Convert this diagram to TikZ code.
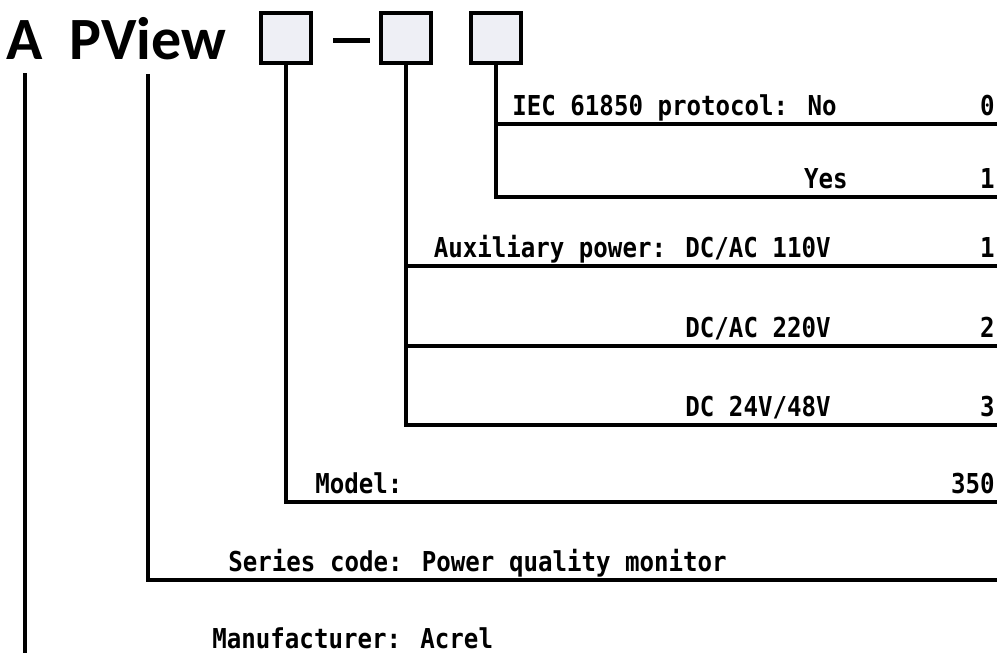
\documentclass[tikz,border=0pt]{standalone}
\usepackage{fontspec}
\newfontfamily\titlefont{Carlito}
\newfontfamily\labelfont[FakeStretch=0.88]{DejaVu Sans Mono}
\usetikzlibrary{positioning,calc}
\definecolor{boxColor}{RGB}{238,239,245}
\tikzset{codebox/.style={draw, line width=2pt, fill=boxColor, minimum size=25pt, inner sep=0pt}}
\tikzset{titletext/.style={font=\titlefont\bfseries\fontsize{30}{30}\selectfont, inner xsep=0pt, inner ysep=7pt, anchor=base}}
\tikzset{optlabel/.style={font=\labelfont\bfseries\fontsize{13.7}{14}\selectfont, inner sep=0pt}}
\tikzset{leader/.style={line width=2.2pt}}

\begin{document}
\begin{tikzpicture}[x=0.5pt, y=-0.5pt]
\useasboundingbox (0,0) rectangle (997,653);
% Nodes
    \node (maker) [titletext] at (25,59) {A};
    \node (series) [titletext] at (148,59) {PView};

    \node (boxModel) [codebox] at (286,38) {};
    \node (boxPower) [codebox, right=33pt of boxModel] {};
    \node (boxProto) [codebox, right=18pt of boxPower] {};
    \node (hyphen) [fill, inner sep=0pt, minimum width=18.5pt, minimum height=2.5pt] at (351,40) {};

    \node (protoNo) [optlabel, anchor=base west] at (512,115) {IEC 61850 protocol: No};
    \node (protoNoCode) [optlabel, anchor=base east] at (995,115) {0};
    \node (protoYes) [optlabel, anchor=base east] at (848,188) {Yes};
    \node (protoYesCode) [optlabel, anchor=base east] at (995,188) {1};

    \node (power110) [optlabel, anchor=base east] at (831,257) {Auxiliary power: DC/AC 110V};
    \node (power110Code) [optlabel, anchor=base east] at (995,257) {1};
    \node (power220) [optlabel, anchor=base east] at (831,337) {DC/AC 220V};
    \node (power220Code) [optlabel, anchor=base east] at (995,337) {2};
    \node (power24) [optlabel, anchor=base east] at (831,416) {DC 24V/48V};
    \node (power24Code) [optlabel, anchor=base east] at (995,416) {3};

    \node (model) [optlabel, anchor=base west] at (315,493) {Model:};
    \node (modelCode) [optlabel, anchor=base east] at (995,493) {350};

    \node (seriesText) [optlabel, anchor=base west] at (228,571) {Series code: Power quality monitor};

    \node (makerText) [optlabel, anchor=base west] at (212,648) {Manufacturer: Acrel};

    \coordinate (protoNoEnd) at (997,124);
    \coordinate (protoYesEnd) at (997,197);
    \coordinate (power110End) at (997,266);
    \coordinate (power220End) at (997,346);
    \coordinate (power24End) at (997,425);
    \coordinate (modelEnd) at (997,502);
    \coordinate (seriesEnd) at (997,580);
    \coordinate (makerEnd) at (25,653);

% Connectors
\begin{scope}[leader]

    \draw (boxProto.south) |- (protoNoEnd);
    \draw (boxProto.south) |- (protoYesEnd);

    \draw (boxPower.south) |- (power110End);
    \draw (boxPower.south) |- (power220End);
    \draw (boxPower.south) |- (power24End);

    \draw (boxModel.south) |- (modelEnd);

    \draw (series.south) |- (seriesEnd);

    \draw (maker.south) -- (makerEnd);

\end{scope}

\end{tikzpicture}
\end{document}
